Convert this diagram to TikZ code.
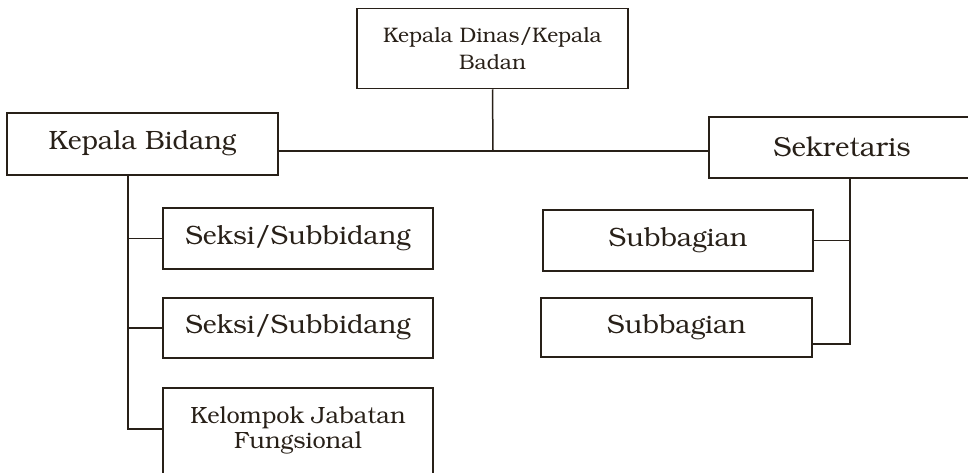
\documentclass[tikz,border=0pt]{standalone}
\usepackage[T1]{fontenc}
\usepackage{bookman}
\definecolor{ink}{RGB}{40,32,24}
\begin{document}
\begin{tikzpicture}[x=1pt,y=-1pt,
  box/.style={draw=ink, line width=1.5pt, rectangle, inner sep=0pt, text=ink, align=center},
  big/.style={font=\fontsize{26.5}{30}\selectfont},
  conn/.style={draw=ink, line width=1.5pt}]
\useasboundingbox (0,0) rectangle (968,472);
\clip (0,0) rectangle (968,472);
\node[box, minimum width=271, minimum height=80, font=\fontsize{21}{27}\selectfont] (top) at (492.5,48.5)
  {Kepala Dinas/Kepala\\Badan};
\node[box, big, minimum width=271, minimum height=62] (kb) at (142.5,144) {Kepala Bidang};
\node[box, minimum width=266, minimum height=61, font=\fontsize{27.5}{30}\selectfont] (sek) at (842,147.5) {Sekretaris};
\node[box, big, minimum width=270, minimum height=61] (s1) at (298,238.5) {Seksi/Subbidang};
\node[box, big, minimum width=270, minimum height=60] (s2) at (298,328) {Seksi/Subbidang};
\node[box, minimum width=270, minimum height=86, font=\fontsize{23.5}{25}\selectfont] (kjf) at (298,431)
  {Kelompok Jabatan\\Fungsional};
\node[box, big, minimum width=270, minimum height=61] (sub1) at (678,240.5) {Subbagian};
\node[box, big, minimum width=271, minimum height=59] (sub2) at (676.5,327.5) {Subbagian};
\coordinate (hj) at (493,151);
\draw[conn] (top.south) -- (hj);
\draw[conn] (kb.east |- hj) -- (sek.west |- hj);
\coordinate (tl) at (128,429);
\draw[conn] (kb.south -| tl) -- (tl) -- (tl -| kjf.west);
\draw[conn] (s1.west) -- (s1.west -| tl);
\draw[conn] (s2.west) -- (s2.west -| tl);
\coordinate (tr) at (850,344);
\draw[conn] (sek.south -| tr) -- (tr) -- (tr -| sub2.east);
\draw[conn] (sub1.east) -- (sub1.east -| tr);
\end{tikzpicture}
\end{document}
